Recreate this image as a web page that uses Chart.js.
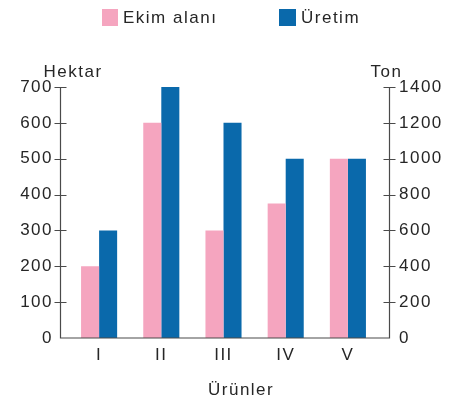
<!DOCTYPE html>
<html>
<head>
<meta charset="utf-8">
<script src="https://cdn.jsdelivr.net/npm/chart.js@4"></script>
<style>
  html, body { margin: 0; padding: 0; background: #ffffff; }
  #wrap { width: 457px; height: 410px; }
</style>
</head>
<body>
<div id="wrap"><canvas id="c" width="457" height="410"></canvas></div>
<script>
const categories = ['I', 'II', 'III', 'IV', 'V'];
const ekimAlani = [200, 600, 300, 375, 500];      // Hektar (left axis)
const uretim = [600, 1400, 1200, 1000, 1000];     // Ton (right axis)
const leftMax = 700, leftStep = 100;
const rightMax = 1400, rightStep = 200;
const seriesLabels = ['Ekim alanı', 'Üretim'];
const axisTitles = { left: 'Hektar', right: 'Ton', x: 'Ürünler' };

const pink = '#f5a5bf';
const blue = '#0a69ab';
const textColor = '#262626';
const axisColor = '#4a4a4a';
const FONT = '"Liberation Sans", Arial, sans-serif';

const decor = {
  id: 'decor',
  beforeDraw(chart) {
    chart.ctx.letterSpacing = '1.5px';
  },
  afterDraw(chart) {
    const { ctx, chartArea: a, scales } = chart;
    const yL = scales.y, yR = scales.y1;
    const xl = a.left - 7.5, xr = a.right + 10.5;
    ctx.save();
    ctx.strokeStyle = axisColor;
    ctx.lineWidth = 1.2;
    ctx.beginPath();
    ctx.moveTo(xl, yL.getPixelForValue(leftMax));
    ctx.lineTo(xl, a.bottom);
    ctx.lineTo(xr, a.bottom);
    ctx.lineTo(xr, yR.getPixelForValue(rightMax));
    ctx.stroke();
    ctx.beginPath();
    yL.ticks.forEach(t => {
      if (t.value === 0) return;
      const y = Math.round(yL.getPixelForValue(t.value)) + 0.5;
      ctx.moveTo(xl - 6, y); ctx.lineTo(xl + 6, y);
    });
    yR.ticks.forEach(t => {
      if (t.value === 0) return;
      const y = Math.round(yR.getPixelForValue(t.value)) + 0.5;
      ctx.moveTo(xr - 6, y); ctx.lineTo(xr + 6, y);
    });
    ctx.stroke();

    ctx.letterSpacing = '1.5px';
    ctx.fillStyle = textColor;
    ctx.font = '17px ' + FONT;
    ctx.textBaseline = 'middle';
    ctx.textAlign = 'left';
    ctx.fillText(axisTitles.left, xl - 17, 72);
    ctx.fillText(axisTitles.right, xr - 19, 72);
    ctx.fillText(axisTitles.x, (xl + xr) / 2 - 17, 390);

    // legend
    const items = [
      { x: 102, w: 16, color: chart.data.datasets[0].backgroundColor, text: chart.data.datasets[0].label },
      { x: 279, w: 17, color: chart.data.datasets[1].backgroundColor, text: chart.data.datasets[1].label }
    ];
    items.forEach(it => {
      ctx.fillStyle = it.color;
      ctx.fillRect(it.x, 9, it.w, 17);
      ctx.fillStyle = textColor;
      ctx.fillText(it.text, it.x + it.w + 5, 18);
    });
    ctx.restore();
  }
};

new Chart(document.getElementById('c'), {
  type: 'bar',
  data: {
    labels: categories,
    datasets: [
      { label: seriesLabels[0], data: ekimAlani, backgroundColor: pink, yAxisID: 'y',
        categoryPercentage: 0.58, barPercentage: 1.0 },
      { label: seriesLabels[1], data: uretim, backgroundColor: blue, yAxisID: 'y1',
        categoryPercentage: 0.58, barPercentage: 1.0 }
    ]
  },
  options: {
    responsive: false,
    animation: false,
    devicePixelRatio: 1,
    layout: { padding: { top: 87, left: 0, right: 0, bottom: 0 } },
    plugins: {
      legend: { display: false },
      tooltip: { enabled: false },
      title: { display: false }
    },
    scales: {
      x: {
        grid: { display: false, drawTicks: false },
        border: { display: false },
        ticks: { color: textColor, font: { family: FONT, size: 17 }, padding: 7 },
        afterFit(s) { s.height = 72; }
      },
      y: {
        position: 'left',
        min: 0, max: leftMax,
        ticks: { stepSize: leftStep, color: textColor, font: { family: FONT, size: 17 }, padding: 15,
                 callback: v => String(v) },
        grid: { display: false, drawTicks: false },
        border: { display: false },
        afterFit(s) { s.width = 68; }
      },
      y1: {
        position: 'right',
        min: 0, max: rightMax,
        ticks: { stepSize: rightStep, color: textColor, font: { family: FONT, size: 17 }, padding: 20,
                 callback: v => String(v) },
        grid: { display: false, drawTicks: false },
        border: { display: false },
        afterFit(s) { s.width = 78; }
      }
    }
  },
  plugins: [decor]
});
</script>
</body>
</html>
